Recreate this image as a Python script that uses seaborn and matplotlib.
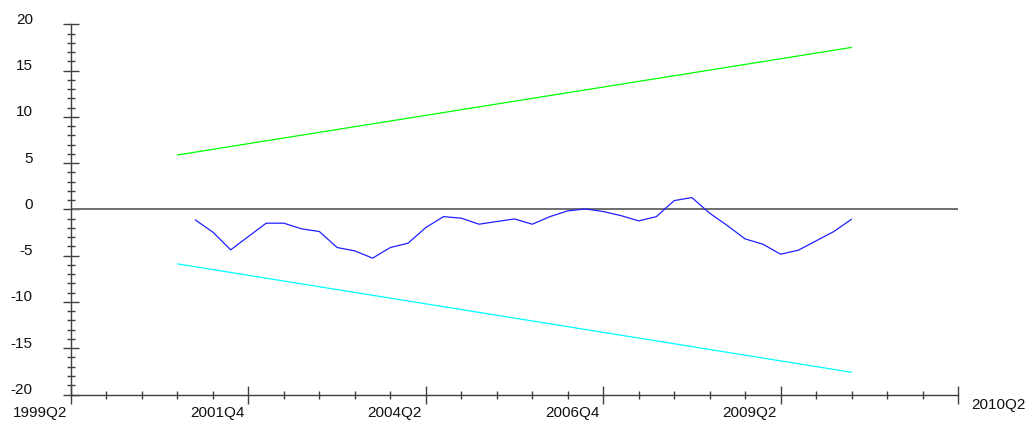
import matplotlib
matplotlib.use("Agg")
import matplotlib.pyplot as plt
import matplotlib.transforms as mtransforms
from matplotlib.ticker import MultipleLocator
import pandas as pd
import seaborn as sns

# CUSUM-style chart, quarters counted from 1999Q2
cusum_quarters = ["2001Q1", "2001Q2", "2001Q3", "2001Q4", "2002Q1", "2002Q2", "2002Q3", "2002Q4",
                  "2003Q1", "2003Q2", "2003Q3", "2003Q4", "2004Q1", "2004Q2", "2004Q3", "2004Q4",
                  "2005Q1", "2005Q2", "2005Q3", "2005Q4", "2006Q1", "2006Q2", "2006Q3", "2006Q4",
                  "2007Q1", "2007Q2", "2007Q3", "2007Q4", "2008Q1", "2008Q2", "2008Q3", "2008Q4",
                  "2009Q1", "2009Q2", "2009Q3", "2009Q4", "2010Q1", "2010Q2"]
cusum_values = [-1.13, -2.46, -4.37, -2.93, -1.49, -1.49, -2.10, -2.39,
                -4.12, -4.48, -5.27, -4.12, -3.65, -1.96, -0.78, -0.95,
                -1.60, -1.31, -1.03, -1.60, -0.78, -0.16, 0.05, -0.23,
                -0.67, -1.24, -0.78, 0.95, 1.28, -0.41, -1.75, -3.19,
                -3.76, -4.84, -4.41, -3.40, -2.39, -1.06]

band_quarters = ["2000Q4", "2010Q2"]
upper_band = [5.88, 17.5]
lower_band = [-5.89, -17.6]

x_tick_labels = ["1999Q2", "2001Q4", "2004Q2", "2006Q4", "2009Q2"]
end_label = "2010Q2"


def quarter_index(q):
    year, qq = q.split("Q")
    return (int(year) - 1999) * 4 + (int(qq) - 2)


cusum_df = pd.DataFrame({"t": [quarter_index(q) for q in cusum_quarters], "v": cusum_values})
band_df = pd.DataFrame({"t": [quarter_index(q) for q in band_quarters],
                        "upper": upper_band, "lower": lower_band})

sns.set_style("white")
plt.rcParams["font.family"] = ["Liberation Sans", "DejaVu Sans"]
plt.rcParams["axes.unicode_minus"] = False

fig = plt.figure(figsize=(10.35, 4.26), dpi=100)
ax = fig.add_axes([71 / 1035, 31.5 / 426, 887 / 1035, 370.2 / 426])

ax.axhline(0, color="#6e6e6e", lw=1.4, zorder=1)
sns.lineplot(data=band_df, x="t", y="upper", color="#00ff00", lw=0.9, ax=ax)
sns.lineplot(data=band_df, x="t", y="lower", color="#00ffff", lw=0.9, ax=ax)
sns.lineplot(data=cusum_df, x="t", y="v", color="#2020ff", lw=0.9, ax=ax)

ax.set_xlim(0, 50)
ax.set_ylim(-20, 20)
ax.set_xlabel("")
ax.set_ylabel("")

for side in ["top", "right"]:
    ax.spines[side].set_visible(False)
for side in ["left", "bottom"]:
    ax.spines[side].set_color("#404040")
    ax.spines[side].set_linewidth(1.0)

ax.set_xticks(range(0, 51, 10))
ax.set_xticklabels(x_tick_labels + [""])
ax.xaxis.set_minor_locator(MultipleLocator(2))
ax.set_yticks(range(-20, 21, 5))
ax.yaxis.set_minor_locator(MultipleLocator(1))

ax.tick_params(axis="x", which="both", bottom=True)
ax.tick_params(axis="y", which="both", left=True)
ax.tick_params(axis="x", which="major", direction="inout", length=13, width=1,
               color="#404040", labelsize=11, labelcolor="#111111", pad=2)
ax.tick_params(axis="x", which="minor", direction="inout", length=6, width=1, color="#404040")
ax.tick_params(axis="y", which="major", direction="inout", length=11, width=1,
               color="#404040", labelsize=11, labelcolor="#111111", pad=22)
ax.tick_params(axis="y", which="minor", direction="inout", length=6, width=1, color="#404040")

shift_x = mtransforms.ScaledTranslation(-31 / 100, 0, fig.dpi_scale_trans)
for lab in ax.get_xticklabels():
    lab.set_transform(lab.get_transform() + shift_x)
shift_y = mtransforms.ScaledTranslation(0, 6 / 100, fig.dpi_scale_trans)
for lab in ax.get_yticklabels():
    lab.set_transform(lab.get_transform() + shift_y)

ax.text(50, -20, end_label, fontsize=11, color="#111111", ha="center", va="center",
        transform=ax.transData + mtransforms.ScaledTranslation(40 / 100, -11 / 100, fig.dpi_scale_trans))

fig.savefig("out.png", dpi=100)
